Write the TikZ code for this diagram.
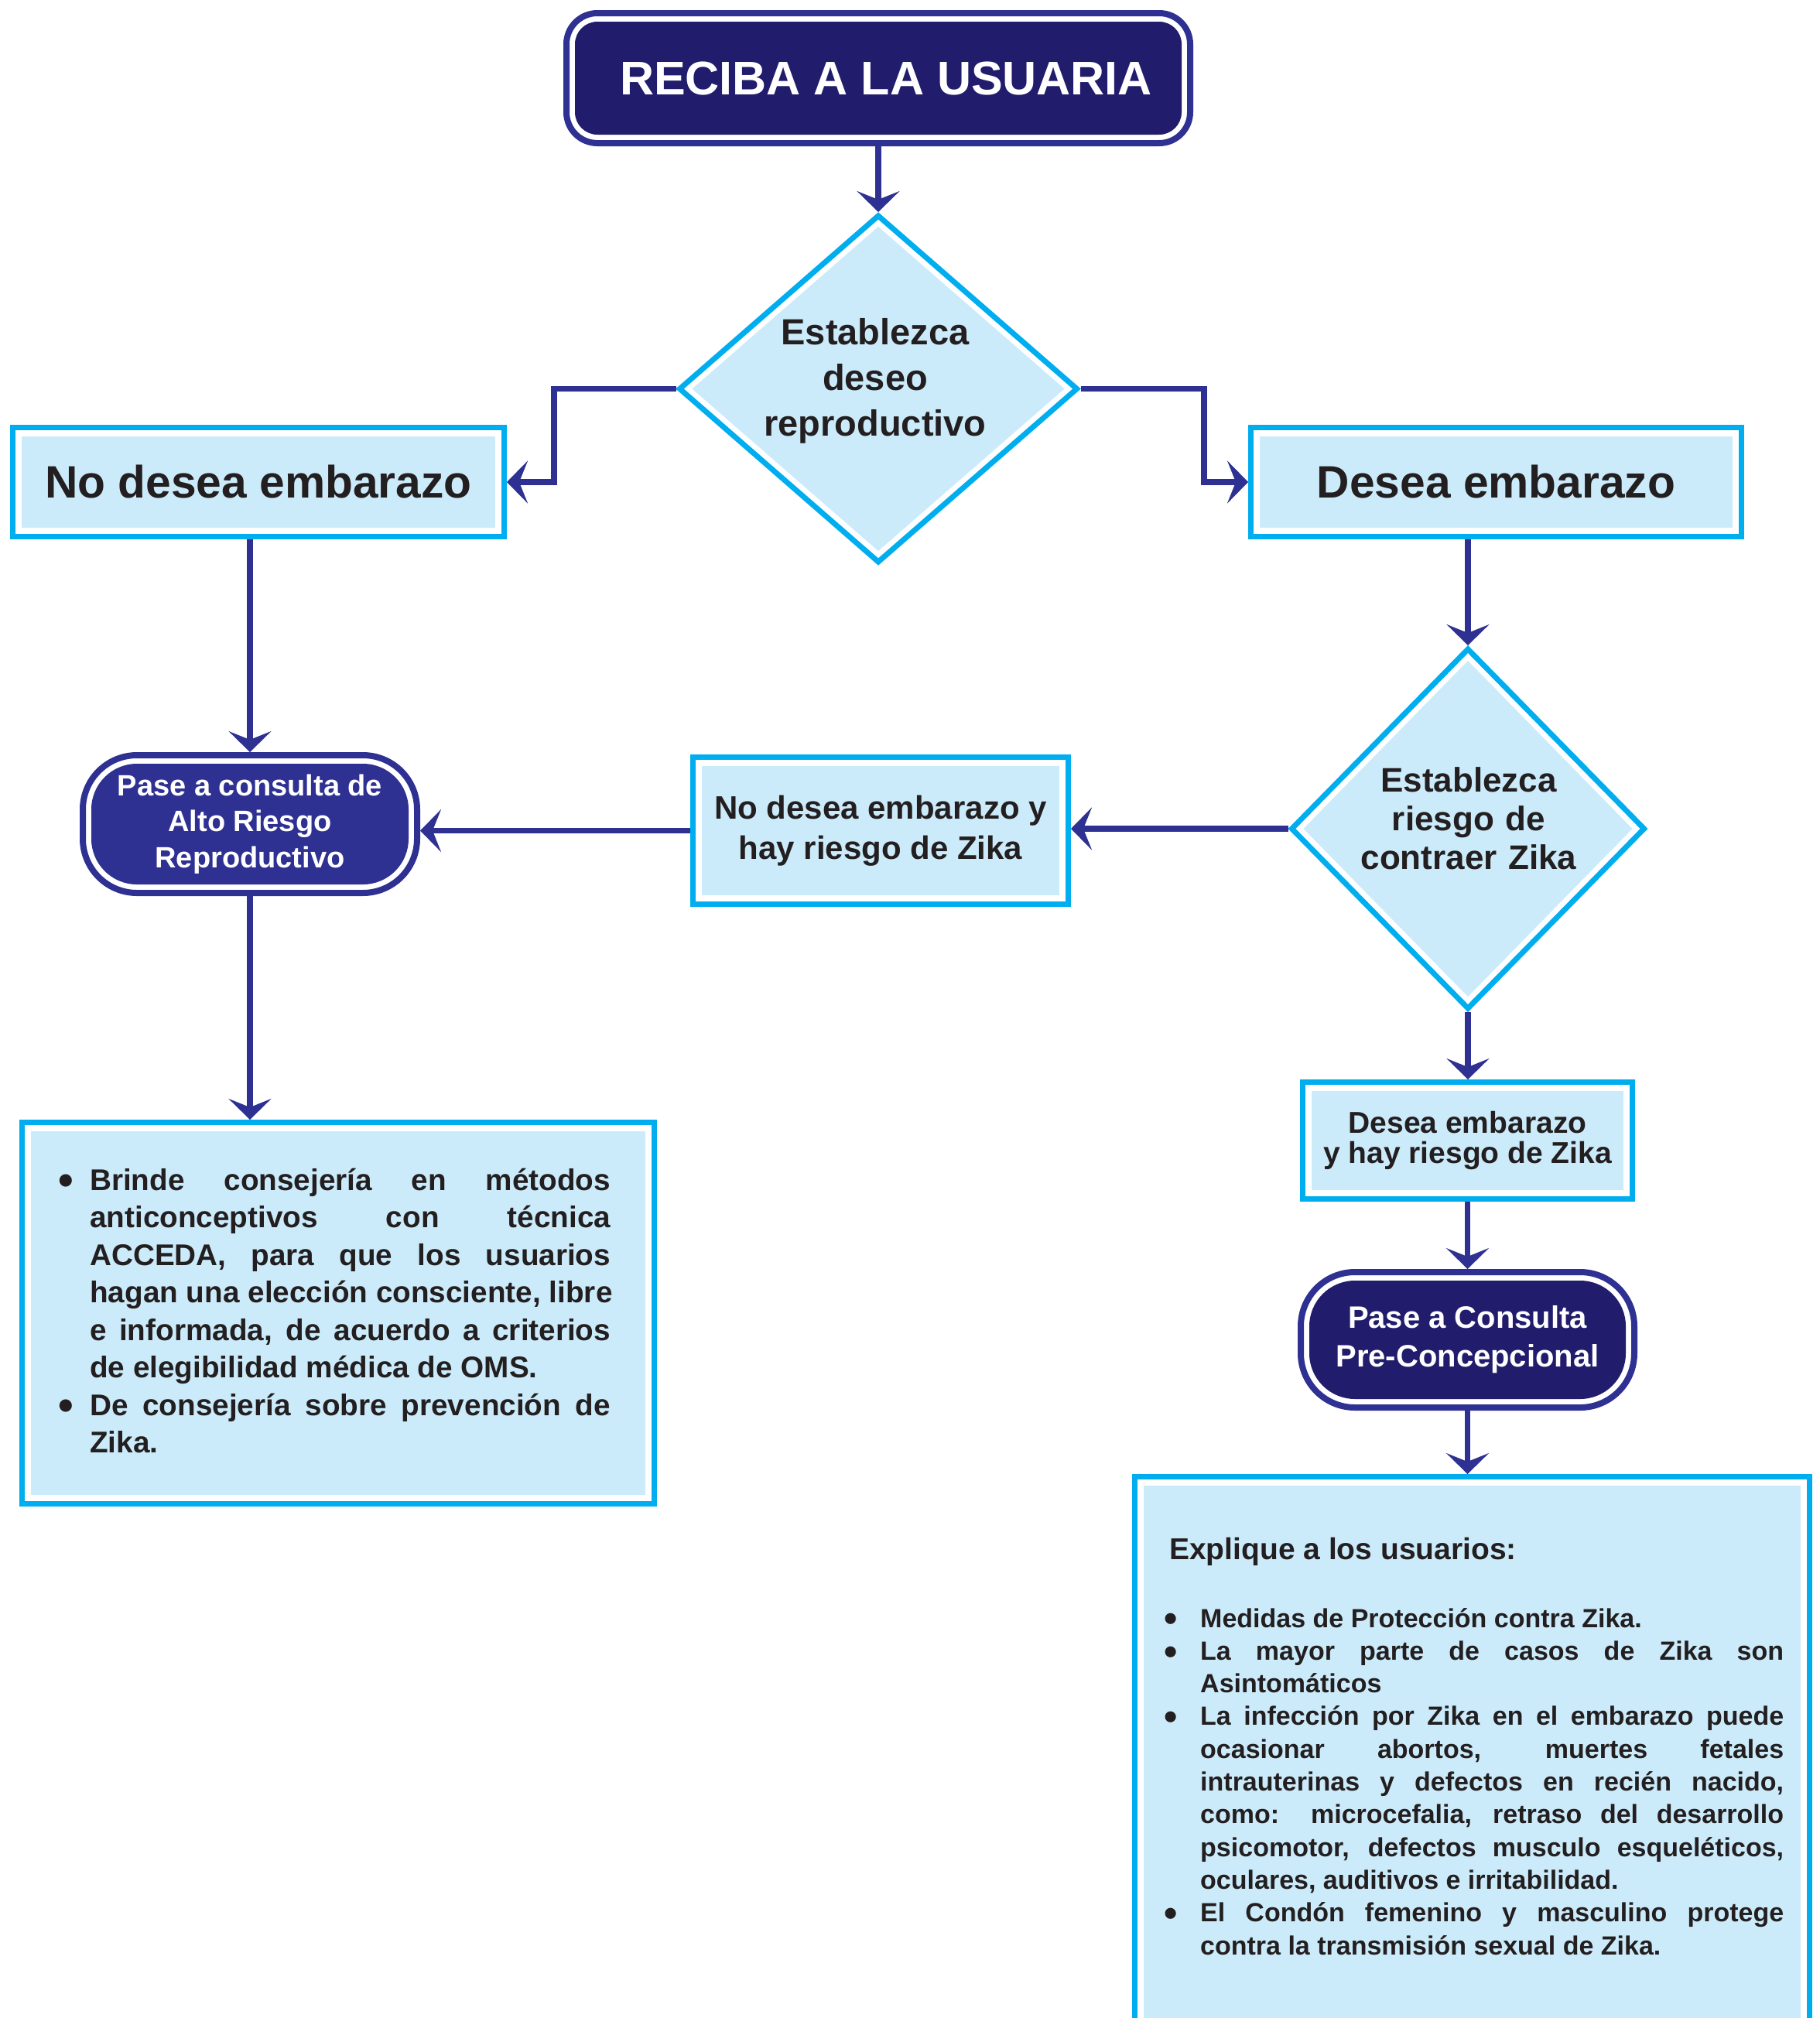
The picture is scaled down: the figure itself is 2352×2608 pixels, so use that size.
\documentclass[tikz,border=0pt]{standalone}
\usepackage{fontspec}
\usepackage{graphicx}
\setmainfont{Liberation Sans}
\usetikzlibrary{arrows.meta,shapes.geometric,calc}
\definecolor{cyanB}{RGB}{0,174,239}
\definecolor{lightB}{RGB}{204,235,250}
\definecolor{navyM}{RGB}{46,49,146}
\definecolor{navyD}{RGB}{33,29,108}
\definecolor{txt}{RGB}{35,31,32}
\newcommand\jl[2]{\hbox to #1{\spaceskip=.278em plus 1fill\relax#2}}
\newcommand\nl[1]{\hbox{#1}}
\newcommand\bul[1]{\llap{\raisebox{-0.17em}{\scalebox{1.45}{\textbullet}}\hspace{#1}}}
\newcommand\fs[2]{\fontsize{#1pt}{#2pt}\selectfont\bfseries}
\begin{document}
\begin{tikzpicture}[x=1pt,y=-1pt,
  arr/.style={draw=navyM, line width=7.5pt, -{Stealth[length=27pt,width=55pt,inset=11pt]}},
  cbox/.style={rectangle, draw=cyanB, line width=7pt, fill=white, inner sep=0pt, text=txt,
    path picture={\fill[lightB] ([shift={(11.5pt,-11.5pt)}]path picture bounding box.north west) rectangle ([shift={(-11.5pt,11.5pt)}]path picture bounding box.south east);}},
  ddiam/.style 2 args={diamond, draw=cyanB, line width=7pt, fill=white, inner sep=0pt,
    path picture={\fill[lightB] ([yshift=-#2]path picture bounding box.north) -- ([xshift=-#1]path picture bounding box.east) -- ([yshift=#2]path picture bounding box.south) -- ([xshift=#1]path picture bounding box.west) -- cycle;}},
  nbox/.style n args={3}{rectangle, draw=navyM, line width=8pt, fill=white, rounded corners=#1, inner sep=0pt, text=white,
    path picture={\fill[#3, rounded corners=#2] ([shift={(11pt,-11pt)}]path picture bounding box.north west) rectangle ([shift={(-11pt,11pt)}]path picture bounding box.south east);}}
]
\clip (0,0) rectangle (2352,2608);
\fill[white] (0,0) rectangle (2352,2608);

% nodes
\node[nbox={40pt}{29pt}{navyD}, minimum width=806pt, minimum height=168pt, font=\fs{61}{72}] (top) at (1135,101) {\hspace{20pt}RECIBA A LA USUARIA};

\node[ddiam={16pt}{14pt}, minimum width=516pt, minimum height=450pt] (d1) at (1135,502.5) {};
\node[font=\fs{47}{59}, text=txt, text width=420pt, align=center, anchor=base, inner sep=0pt] (d1t) at (1131,445) {Establezca\\deseo\\reproductivo};

\node[cbox, minimum width=635pt, minimum height=141pt, font=\fs{58.7}{70}] (nd) at (334,623) {No desea embarazo};
\node[cbox, minimum width=634pt, minimum height=141pt, font=\fs{58.7}{70}] (de) at (1933.5,623) {Desea embarazo\hspace{17pt}};

\node[ddiam={15pt}{15pt}, minimum width=458pt, minimum height=467pt] (d2) at (1897,1071) {};
\node[font=\fs{44}{50}, text=txt, text width=420pt, align=center, anchor=base, inner sep=0pt] (d2t) at (1898,1023) {Establezca\\riesgo de\\contraer Zika};

\node[cbox, minimum width=485pt, minimum height=190pt, font=\fs{42}{52}, align=center] (nz) at (1138,1073.5) {No desea embarazo y\\hay riesgo de Zika};

\node[nbox={70pt}{59pt}{navyM}, minimum width=432pt, minimum height=178pt, font=\fs{38}{46.7}, align=center] (p1) at (323,1065) {Pase a consulta de\\Alto Riesgo\\Reproductivo};

\node[cbox, minimum width=426pt, minimum height=151pt, font=\fs{39}{39.5}, align=center] (dz) at (1896.5,1474) {Desea embarazo\\y hay riesgo de Zika};

\node[nbox={70pt}{59pt}{navyD}, minimum width=431pt, minimum height=175pt, font=\fs{40}{50}, align=center] (p2) at (1896.5,1731.5) {Pase a Consulta\\Pre-Concepcional};

\node[cbox, minimum width=817pt, minimum height=493pt] (lb) at (437,1697) {};
\node[font=\fs{38.7}{48.5}, text=txt, anchor=base west, inner sep=0pt] (lbt) at (116,1538) {\vtop{%
\jl{673pt}{\bul{21pt}Brinde consejería en métodos}
\jl{673pt}{anticonceptivos con técnica}
\jl{673pt}{ACCEDA, para que los usuarios}
\jl{673pt}{hagan una elección consciente, libre}
\jl{673pt}{e informada, de acuerdo a criterios}
\nl{de elegibilidad médica de OMS.}
\jl{673pt}{\bul{21pt}De consejería sobre prevención de}
\nl{Zika.}}};

\node[cbox, minimum width=872pt, minimum height=790pt] (rb) at (1902.5,2303.5) {};
\node[font=\fs{39}{47}, text=txt, anchor=base west, inner sep=0pt] (rbh) at (1511,2015) {Explique a los usuarios:};
\node[font=\fs{34}{42.3}, text=txt, anchor=base west, inner sep=0pt] (rbt) at (1551,2103) {\vtop{%
\nl{\bul{29pt}Medidas de Protección contra Zika.}
\jl{754pt}{\bul{29pt}La mayor parte de casos de Zika son}
\nl{Asintomáticos}
\jl{754pt}{\bul{29pt}La infección por Zika en el embarazo puede}
\jl{754pt}{ocasionar abortos, muertes fetales}
\jl{754pt}{intrauterinas y defectos en recién nacido,}
\jl{754pt}{como: microcefalia, retraso del desarrollo}
\jl{754pt}{psicomotor, defectos musculo esqueléticos,}
\nl{oculares, auditivos e irritabilidad.}
\jl{754pt}{\bul{29pt}El Condón femenino y masculino protege}
\nl{contra la transmisión sexual de Zika.}}};

% connectors
\coordinate (kL) at (716,623);
\coordinate (kR) at (1556,623);
\draw[arr] (top.south) -- (d1.north);
\draw[arr] (d1.west) -| (kL) -- (nd.east);
\draw[arr] (d1.east) -| (kR) -- (de.west);
\draw[arr] (nd.south -| p1.north) -- (p1.north);
\draw[arr] (de.south -| d2.north) -- (d2.north);
\draw[arr] (d2.west) -- (d2.west -| nz.east);
\draw[arr] (nz.west) -- (nz.west -| p1.east);
\draw[arr] (p1.south) -- (p1.south |- lb.north);
\draw[arr] (d2.south) -- (dz.north -| d2.south);
\draw[arr] (dz.south -| p2.north) -- (p2.north);
\draw[arr] (p2.south) -- (p2.south |- rb.north);
\end{tikzpicture}
\end{document}
